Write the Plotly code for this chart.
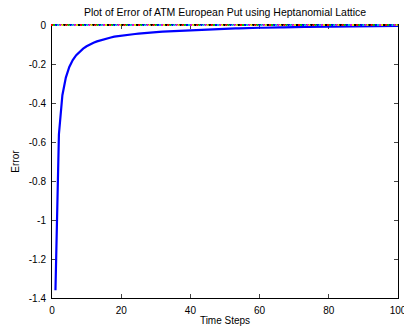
import plotly.graph_objects as go

time_steps = list(range(1, 101))
error = [
    -1.36, -0.56, -0.36, -0.27, -0.215, -0.18, -0.155, -0.136, -0.121, -0.109,
    -0.099, -0.091, -0.084, -0.078, -0.073, -0.068, -0.064, -0.060, -0.057, -0.054,
    -0.052, -0.050, -0.048, -0.046, -0.044, -0.042, -0.041, -0.039, -0.038, -0.037,
    -0.035, -0.034, -0.033, -0.032, -0.031, -0.030, -0.029, -0.028, -0.027, -0.026,
    -0.025, -0.024, -0.023, -0.023, -0.022, -0.021, -0.021, -0.020, -0.019, -0.019,
    -0.018, -0.018, -0.017, -0.017, -0.016, -0.016, -0.015, -0.015, -0.014, -0.014,
    -0.014, -0.013, -0.013, -0.013, -0.012, -0.012, -0.012, -0.011, -0.011, -0.011,
    -0.010, -0.010, -0.010, -0.010, -0.009, -0.009, -0.009, -0.009, -0.008, -0.008,
    -0.008, -0.008, -0.008, -0.007, -0.007, -0.007, -0.007, -0.007, -0.007, -0.006,
    -0.006, -0.006, -0.006, -0.006, -0.006, -0.005, -0.005, -0.005, -0.005, -0.005,
]

# dotted multi-coloured reference line at zero error
zero_colors = ["#ff0000", "#00cc00", "#0000ff", "#00cccc", "#dd00dd", "#dddd00", "#000000"]
zero_step = 0.6
n_dots = int(100 / zero_step) + 1
zero_x = [i * zero_step for i in range(n_dots)]
zero_y = [0] * n_dots
zero_dot_colors = [zero_colors[i % len(zero_colors)] for i in range(n_dots)]

x_ticks = [0, 20, 40, 60, 80, 100]
y_ticks = [-1.4, -1.2, -1, -0.8, -0.6, -0.4, -0.2, 0]
y_tick_labels = ["-1.4", "-1.2", "-1", "-0.8", "-0.6", "-0.4", "-0.2", "0"]

fig = go.Figure()
fig.add_trace(go.Scatter(x=time_steps, y=error, mode="lines",
                         line=dict(color="#0000ff", width=2.2), showlegend=False))
fig.add_trace(go.Scatter(x=zero_x, y=zero_y, mode="markers",
                         marker=dict(symbol="square", size=2, color=zero_dot_colors,
                                     line=dict(width=0)),
                         cliponaxis=False, showlegend=False))

font = dict(family="Liberation Sans, Arial, sans-serif", size=10, color="#000000")
fig.update_layout(
    width=404, height=326,
    margin=dict(l=52, r=6, t=25, b=28),
    paper_bgcolor="white", plot_bgcolor="white",
    font=font,
    title=dict(text="Plot of Error of ATM European Put using Heptanomial Lattice",
               x=0.557, xanchor="center", y=0.963, yanchor="middle",
               font=dict(family="Liberation Sans, Arial, sans-serif", size=10.5)),
    xaxis=dict(range=[0, 100], tickvals=x_ticks, ticks="inside", ticklen=4,
               mirror="ticks", showline=True, linecolor="#000000", linewidth=1,
               showgrid=False, zeroline=False, tickfont=font, layer="below traces",
               ticklabeloverflow="allow", ticklabelstandoff=3, automargin=False,
               title=dict(text="Time Steps", standoff=4, font=font)),
    yaxis=dict(range=[-1.4, 0], tickvals=y_ticks, ticktext=y_tick_labels,
               ticks="inside", ticklen=4, mirror="ticks", showline=True,
               linecolor="#000000", linewidth=1, showgrid=False, zeroline=False,
               tickfont=font, layer="below traces", ticklabelstandoff=3,
               automargin=False,
               title=dict(text="Error", standoff=7, font=font)),
)

fig.write_html("out.html")
